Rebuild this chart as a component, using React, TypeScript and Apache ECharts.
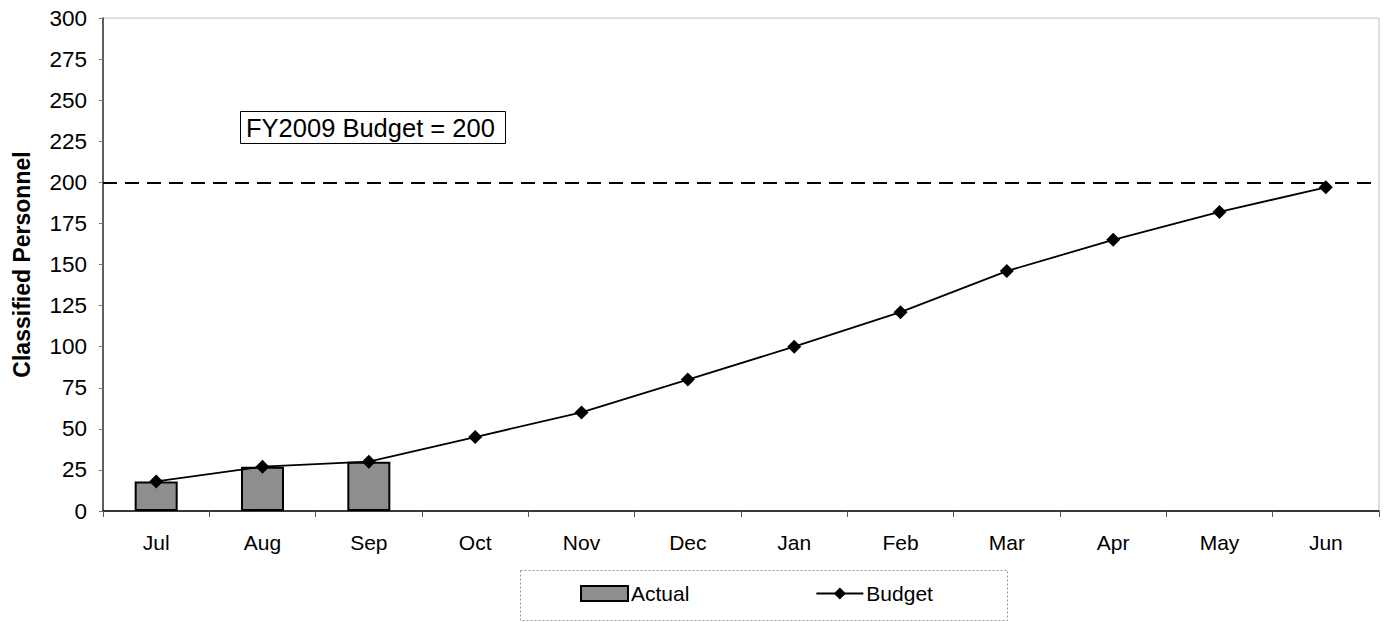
import React, { useEffect, useRef } from "react";
import * as echarts from "echarts";

const months = ["Jul", "Aug", "Sep", "Oct", "Nov", "Dec", "Jan", "Feb", "Mar", "Apr", "May", "Jun"];
const actual = [18, 27, 30, null, null, null, null, null, null, null, null, null];
const budget = [18, 27, 30, 45, 60, 80, 100, 121, 146, 165, 182, 197];
const budgetTarget = 200;
const annotation = "FY2009 Budget = 200";

const FONT = "'Liberation Sans', Arial, sans-serif";

export default function App() {
  const ref = useRef<HTMLDivElement>(null);
  useEffect(() => {
    if (!ref.current) return;
    const chart = echarts.init(ref.current, null, { renderer: "svg" });
    chart.setOption({
      animation: false,
      backgroundColor: "#ffffff",
      textStyle: { fontFamily: FONT },
      grid: {
        left: 103,
        right: 10,
        top: 18,
        bottom: 111,
        show: true,
        borderColor: "#bdbdbd",
        borderWidth: 1,
        backgroundColor: "transparent",
      },
      legend: {
        left: 580,
        top: 583,
        padding: 0,
        itemGap: 126,
        itemWidth: 47,
        itemHeight: 15,
        textStyle: { fontSize: 21, color: "#000", fontFamily: FONT, padding: [0, 0, 0, -2] },
        data: [
          { name: "Actual", icon: "rect" },
          { name: "Budget" },
        ],
      },
      xAxis: {
        type: "category",
        data: months,
        boundaryGap: true,
        axisLine: { lineStyle: { color: "#000", width: 1.5 } },
        axisTick: { show: true, length: 6, lineStyle: { color: "#555" } },
        axisLabel: { fontSize: 21, color: "#000", margin: 21, fontFamily: FONT },
      },
      yAxis: {
        type: "value",
        min: 0,
        max: 300,
        interval: 25,
        name: "Classified Personnel",
        nameLocation: "middle",
        nameRotate: 90,
        nameGap: 70,
        nameTextStyle: { fontSize: 23, fontWeight: "bold", color: "#000", fontFamily: FONT },
        axisLine: { show: true, lineStyle: { color: "#333", width: 1.5 } },
        axisTick: { show: true, length: 4, lineStyle: { color: "#777" } },
        axisLabel: { fontSize: 22.5, color: "#000", margin: 16, fontFamily: FONT },
        splitLine: { show: false },
      },
      series: [
        {
          name: "Actual",
          type: "bar",
          data: actual,
          barWidth: 43,
          itemStyle: { color: "#8e8e8e", borderColor: "#000", borderWidth: 2 },
          markLine: {
            silent: true,
            symbol: "none",
            label: { show: false },
            lineStyle: { color: "#000", type: [14, 8], width: 2 },
            data: [{ yAxis: budgetTarget }],
          },
        },
        {
          name: "Budget",
          type: "line",
          data: budget,
          symbol: "diamond",
          symbolSize: 14,
          itemStyle: { color: "#000" },
          lineStyle: { color: "#000", width: 1.8 },
        },
      ],
      graphic: [
        {
          type: "rect",
          left: 518,
          top: 568,
          shape: { width: 487, height: 50 },
          style: { fill: "none", stroke: "#999", lineWidth: 1, lineDash: [2, 2] },
          z: 0,
        },
        {
          type: "rect",
          left: 240,
          top: 111,
          shape: { width: 265, height: 32 },
          style: { fill: "#fff", stroke: "#000", lineWidth: 1 },
          z: 10,
        },
        {
          type: "text",
          x: 246,
          y: 128,
          style: {
            text: annotation,
            fontSize: 25.5,
            fill: "#000",
            fontFamily: FONT,
            verticalAlign: "middle",
          },
          z: 11,
        },
      ],
    });
    return () => chart.dispose();
  }, []);
  return (
    <div
      ref={ref}
      style={{ position: "absolute", left: 0, top: 0, width: 1389, height: 622 }}
    />
  );
}
